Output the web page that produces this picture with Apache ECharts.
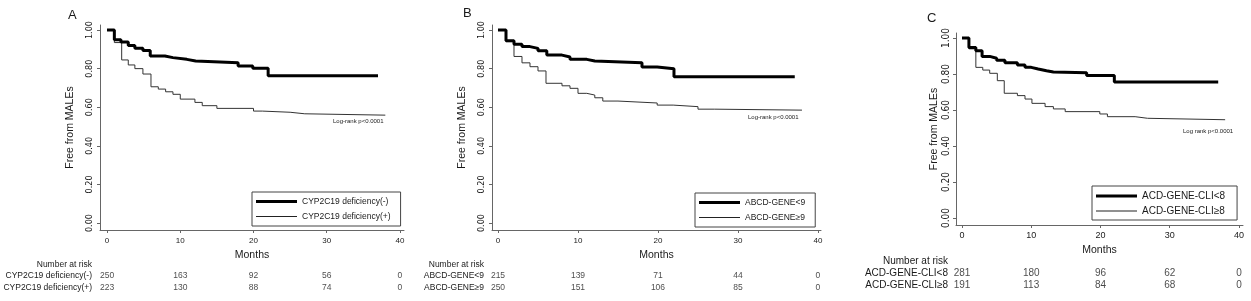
<!DOCTYPE html>
<html>
<head>
<meta charset="utf-8">
<script src="https://cdn.jsdelivr.net/npm/echarts@6/dist/echarts.min.js"></script>
<style>
  html, body { margin: 0; padding: 0; background: #fff; }
  #main { width: 1251px; height: 301px; }
</style>
</head>
<body>
<div id="main"></div>
<script>
// shared ticks
var monthTicks = [0, 10, 20, 30, 40];
var survTicks = [0, 0.2, 0.4, 0.6, 0.8, 1.0];
var riskHeader = 'Number at risk';

// panel A - CYP2C19
var aNames = ['CYP2C19 deficiency(-)', 'CYP2C19 deficiency(+)'];
var aTimeLo = [0, 1, 1.9, 2.9, 3.8, 4.9, 5.9, 7.9, 9.0, 10.9, 12.1, 17.9, 19.9, 22, 37];
var aSurvLo = [1, 0.95, 0.938, 0.92, 0.906, 0.894, 0.865, 0.857, 0.848, 0.84, 0.831, 0.814, 0.802, 0.763, 0.763];
var aTimeHi = [0, 1, 2.0, 2.9, 3.8, 4.9, 6.0, 7.0, 8.0, 9.0, 10, 12, 13, 15, 20, 21.2, 25, 27, 38];
var aSurvHi = [1, 0.935, 0.845, 0.819, 0.80, 0.772, 0.706, 0.694, 0.68, 0.667, 0.642, 0.625, 0.608, 0.594, 0.58, 0.574, 0.566, 0.559, 0.559];
var aRiskLo = [250, 163, 92, 56, 0];
var aRiskHi = [223, 130, 88, 74, 0];

// panel B - ABCD-GENE
var bNames = ['ABCD-GENE<9', 'ABCD-GENE\u22659'];
var bTimeLo = [0, 1, 2, 3, 4, 5, 6.1, 8, 9, 11.1, 12.1, 18, 19.9, 22, 37.1];
var bSurvLo = [1, 0.945, 0.926, 0.914, 0.905, 0.893, 0.87, 0.86, 0.848, 0.84, 0.831, 0.808, 0.799, 0.758, 0.758];
var bTimeHi = [0, 1, 2, 3, 4, 5, 6, 8, 9, 10, 11.1, 12.1, 13.1, 15, 19.9, 21.9, 25, 27.1, 38];
var bSurvHi = [1, 0.94, 0.863, 0.83, 0.81, 0.788, 0.724, 0.711, 0.698, 0.672, 0.663, 0.649, 0.632, 0.622, 0.611, 0.603, 0.59, 0.585, 0.585];
var bRiskLo = [215, 139, 71, 44, 0];
var bRiskHi = [250, 151, 106, 85, 0];

// panel C - ACD-GENE-CLI
var cNames = ['ACD-GENE-CLI<8', 'ACD-GENE-CLI\u22658'];
var cTimeLo = [0, 1, 2, 2.9, 4, 5, 6.2, 8, 9.1, 10, 11, 12.2, 13.2, 18, 22, 37];
var cSurvLo = [1, 0.947, 0.93, 0.898, 0.888, 0.876, 0.862, 0.85, 0.837, 0.828, 0.818, 0.811, 0.807, 0.792, 0.756, 0.756];
var cTimeHi = [0, 1, 2, 3, 4, 5.1, 6.1, 8, 9.1, 10.1, 12, 13.2, 14.9, 19.9, 21, 25, 26.8, 38];
var cSurvHi = [1, 0.94, 0.837, 0.822, 0.804, 0.763, 0.693, 0.68, 0.661, 0.637, 0.619, 0.606, 0.591, 0.578, 0.563, 0.554, 0.546, 0.546];
var cRiskLo = [281, 180, 96, 62, 0];
var cRiskHi = [191, 113, 84, 68, 0];

var font = 'Liberation Sans, Arial, sans-serif';
var narrow = 'Liberation Sans Narrow, DejaVu Sans Condensed, Liberation Sans, sans-serif';
var ink = '#1a1a1a';
var axisGray = '#666';
// legend keys: plain bars, thick and thin
var keyThick = 'path://M0,0L41,0L41,3L0,3Z';
var keyThin = 'path://M0,0L41,0L41,1L0,1Z';

function pairs(xs, ys) {
  return xs.map(function (x, i) { return [x, ys[i]]; });
}

var chart = echarts.init(document.getElementById('main'), null, { renderer: 'canvas' });

var option = {
  backgroundColor: '#fff',
  animation: false,
  textStyle: { fontFamily: font },
  title: [],
  legend: [],
  grid: [],
  xAxis: [],
  yAxis: [],
  series: []
};

// p: panel layout, d: panel data
function addPanel(p, d) {
  var gi = option.grid.length;
  option.grid.push({ left: p.left, top: p.top, width: p.width, height: p.height });
  option.grid.push({ left: p.left, top: p.riskTop, width: p.width, height: p.riskHeight });

  option.xAxis.push({
    gridIndex: gi, type: 'value', min: p.xMin, max: p.xMax,
    name: 'Months', nameLocation: 'middle', nameGap: p.nameGapX,
    nameTextStyle: { fontSize: p.nameSize, color: ink, fontFamily: font },
    axisLine: { onZero: false, lineStyle: { color: axisGray, width: 1 } },
    axisTick: { length: 3, customValues: monthTicks, lineStyle: { color: axisGray } },
    axisLabel: { customValues: monthTicks, fontSize: p.tickSize, color: ink, margin: p.xLabelMargin, fontFamily: font },
    splitLine: { show: false }
  });
  option.xAxis.push({
    gridIndex: gi + 1, type: 'value', min: p.xMin, max: p.xMax,
    axisLine: { show: false }, axisTick: { show: false },
    axisLabel: { show: false }, splitLine: { show: false }
  });

  option.yAxis.push({
    gridIndex: gi, type: 'value', min: p.yMin, max: p.yMax,
    name: 'Free from MALEs', nameLocation: 'middle', nameGap: p.nameGapY, nameRotate: 90,
    nameTextStyle: { fontSize: p.nameSize, color: ink, fontFamily: font },
    axisLine: { onZero: false, lineStyle: { color: axisGray, width: 1 } },
    axisTick: { length: 3, customValues: survTicks, lineStyle: { color: axisGray } },
    axisLabel: {
      customValues: survTicks, rotate: 90, fontSize: p.yTickSize, color: ink, margin: p.yLabelMargin,
      fontFamily: narrow,
      formatter: function (v) { return v.toFixed(2); }
    },
    splitLine: { show: false }
  });
  option.yAxis.push({
    gridIndex: gi + 1, type: 'category', inverse: true,
    data: [riskHeader, d.names[0], d.names[1]],
    axisLine: { show: false }, axisTick: { show: false }, splitLine: { show: false },
    axisLabel: { interval: 0, fontSize: p.riskSize, color: ink, margin: 8, fontFamily: font }
  });

  option.series.push({
    name: d.names[1], type: 'line', step: 'end', xAxisIndex: gi, yAxisIndex: gi,
    symbol: 'none', lineStyle: { color: '#333', width: 1 }, itemStyle: { color: '#333' },
    data: pairs(d.timeHi, d.survHi), z: 2
  });
  option.series.push({
    name: d.names[0], type: 'line', step: 'end', xAxisIndex: gi, yAxisIndex: gi,
    symbol: 'none', lineStyle: { color: '#000', width: 3 }, itemStyle: { color: '#000' },
    data: pairs(d.timeLo, d.survLo), z: 3
  });

  var rows = [];
  monthTicks.forEach(function (m, i) {
    rows.push([m, d.names[0], d.riskLo[i]]);
    rows.push([m, d.names[1], d.riskHi[i]]);
  });
  option.series.push({
    type: 'scatter', xAxisIndex: gi + 1, yAxisIndex: gi + 1, silent: true,
    symbolSize: 1, itemStyle: { color: 'rgba(0,0,0,0)' },
    label: {
      show: true, position: 'inside', fontSize: p.riskSize, color: ink, fontFamily: font,
      formatter: function (q) { return String(q.value[2]); }
    },
    data: rows
  });

  option.legend.push({
    data: [
      { name: d.names[0], icon: keyThick, itemStyle: { color: '#000' } },
      { name: d.names[1], icon: keyThin, itemStyle: { color: '#222' } }
    ],
    orient: 'vertical',
    left: p.legLeft, top: p.legTop,
    itemWidth: 41, itemHeight: 10, itemGap: p.legGap, symbolKeepAspect: true,
    padding: p.legPad, borderColor: '#444', borderWidth: 1,
    textStyle: { fontSize: p.legSize, color: ink, fontFamily: font },
    selectedMode: false
  });

  option.title.push({
    text: d.letter, left: p.letterX, top: p.letterY, padding: 0,
    textStyle: { fontSize: 13, fontWeight: 'normal', color: ink, fontFamily: font }
  });
  option.title.push({
    text: d.logrank, left: p.lrX, top: p.lrY, padding: 0,
    textStyle: { fontSize: 6, fontWeight: 'normal', color: ink, fontFamily: font }
  });
}

addPanel({
  left: 100, top: 25, width: 304, height: 205, xMin: -0.96, xMax: 40.55, yMin: -0.036, yMax: 1.026,
  riskTop: 259, riskHeight: 34, nameGapX: 17, nameGapY: 24, nameSize: 10.5, tickSize: 8, yTickSize: 9,
  xLabelMargin: 7, yLabelMargin: 6, riskSize: 8.5,
  legLeft: 252, legTop: 192, legGap: 6, legPad: [5, 10, 5, 4], legSize: 8.5,
  letterX: 68, letterY: 9, lrX: 333, lrY: 118
}, {
  names: aNames, letter: 'A', logrank: 'Log-rank p<0.0001',
  timeLo: aTimeLo, survLo: aSurvLo, timeHi: aTimeHi, survHi: aSurvHi, riskLo: aRiskLo, riskHi: aRiskHi
});

addPanel({
  left: 492, top: 25, width: 329, height: 205, xMin: -0.75, xMax: 40.38, yMin: -0.036, yMax: 1.026,
  riskTop: 259, riskHeight: 34, nameGapX: 17, nameGapY: 24, nameSize: 10.5, tickSize: 8, yTickSize: 9,
  xLabelMargin: 7, yLabelMargin: 6, riskSize: 8.5,
  legLeft: 695, legTop: 193, legGap: 6, legPad: [5, 10, 5, 4], legSize: 8.5,
  letterX: 463, letterY: 7, lrX: 748, lrY: 114
}, {
  names: bNames, letter: 'B', logrank: 'Log-rank p<0.0001',
  timeLo: bTimeLo, survLo: bSurvLo, timeHi: bTimeHi, survHi: bSurvHi, riskLo: bRiskLo, riskHi: bRiskHi
});

addPanel({
  left: 956, top: 33, width: 287, height: 192, xMin: -0.866, xMax: 40.58, yMin: -0.039, yMax: 1.028,
  riskTop: 255, riskHeight: 36, nameGapX: 16, nameGapY: 16, nameSize: 10.5, tickSize: 9, yTickSize: 10,
  xLabelMargin: 6, yLabelMargin: 5, riskSize: 10,
  legLeft: 1092, legTop: 186, legGap: 5, legPad: [5, 12, 4, 4], legSize: 10,
  letterX: 927, letterY: 12, lrX: 1183, lrY: 128
}, {
  names: cNames, letter: 'C', logrank: 'Log rank p<0.0001',
  timeLo: cTimeLo, survLo: cSurvLo, timeHi: cTimeHi, survHi: cSurvHi, riskLo: cRiskLo, riskHi: cRiskHi
});

chart.setOption(option);
</script>
</body>
</html>
